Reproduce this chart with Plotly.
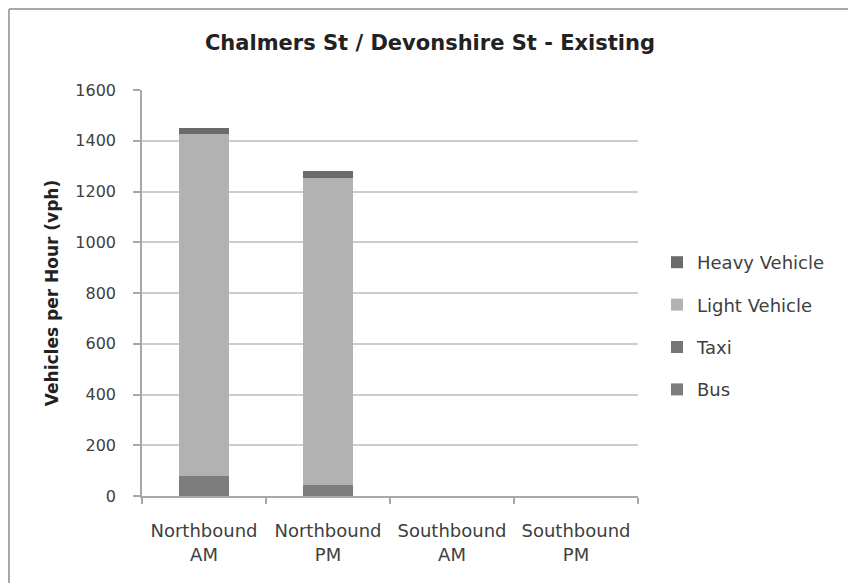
import plotly.graph_objects as go

categories = ["Northbound<br>AM", "Northbound<br>PM", "Southbound<br>AM", "Southbound<br>PM"]
bus = [80, 45, 0, 0]
taxi = [0, 0, 0, 0]
light_vehicle = [1345, 1210, 0, 0]
heavy_vehicle = [25, 25, 0, 0]
y_ticks = [0, 200, 400, 600, 800, 1000, 1200, 1400, 1600]

OFF = 8  # browser body margin
W, H = 856 - OFF, 583 - OFF
L, R, T, B = 142 - OFF, 638 - OFF, 90 - OFF, 496 - OFF

series = [
    ("Bus", bus, "#7d7d7d", 4),
    ("Taxi", taxi, "#757575", 3),
    ("Light Vehicle", light_vehicle, "#b2b2b2", 2),
    ("Heavy Vehicle", heavy_vehicle, "#6b6b6b", 1),
]

fig = go.Figure()
for name, vals, col, rank in series:
    fig.add_trace(go.Bar(
        x=categories, y=vals, name=name, marker_color=col,
        marker_line_width=0, legendgroup=name, legendrank=rank,
    ))

def px(xpage):
    return (xpage - OFF - L) / (R - L)

def py(ypage):
    return (B - (ypage - OFF)) / (B - T)

fig.update_layout(
    width=W, height=H,
    margin=dict(l=L, r=W - R, t=T, b=H - B, pad=0, autoexpand=False),
    barmode="stack", bargap=0.6,
    plot_bgcolor="white", paper_bgcolor="white",
    font=dict(family="DejaVu Sans", size=16, color="#404040"),
    title=dict(text="<b>Chalmers St / Devonshire St - Existing</b>",
               x=(430 - OFF) / W, xanchor="center", y=1 - (43 - OFF) / H, yanchor="middle",
               font=dict(family="DejaVu Sans", size=21, color="#222222")),
    legend=dict(x=px(657), xanchor="left", y=py(244), yanchor="top",
                traceorder="grouped", tracegroupgap=16,
                font=dict(family="DejaVu Sans", size=18, color="#404040")),
    xaxis=dict(showline=True, linecolor="#a8a8a8", linewidth=1.5,
               ticks="outside", tickson="boundaries", ticklen=6,
               tickcolor="#a8a8a8", tickwidth=1.5, ticklabelstandoff=18,
               tickangle=0, automargin=False,
               tickfont=dict(family="DejaVu Sans", size=18, color="#404040"),
               range=[-0.5, 3.5]),
    yaxis=dict(range=[0, 1600], tickvals=y_ticks, showline=True,
               linecolor="#a8a8a8", linewidth=1.5, ticks="outside",
               ticklen=7, tickcolor="#a8a8a8", tickwidth=1.5,
               ticklabelstandoff=14, automargin=False,
               gridcolor="#cccccc", gridwidth=1.5,
               tickfont=dict(family="DejaVu Sans", size=16, color="#404040"),
               title=dict(text="<b>Vehicles per Hour (vph)</b>", standoff=12,
                          font=dict(family="DejaVu Sans", size=17, color="#222222"))),
)

# outer chart frame
frame = dict(type="line", xref="paper", yref="paper",
             line=dict(color="#a8a8a8", width=2))
fig.add_shape(**frame, x0=px(OFF + 1), x1=px(OFF + 1), y0=py(OFF + 1), y1=py(600))
fig.add_shape(**frame, x0=px(854), x1=px(854), y0=py(OFF + 1), y1=py(600))
fig.add_shape(**frame, x0=px(OFF + 1), x1=px(854), y0=py(OFF + 1), y1=py(OFF + 1))

fig.write_html("out.html")
